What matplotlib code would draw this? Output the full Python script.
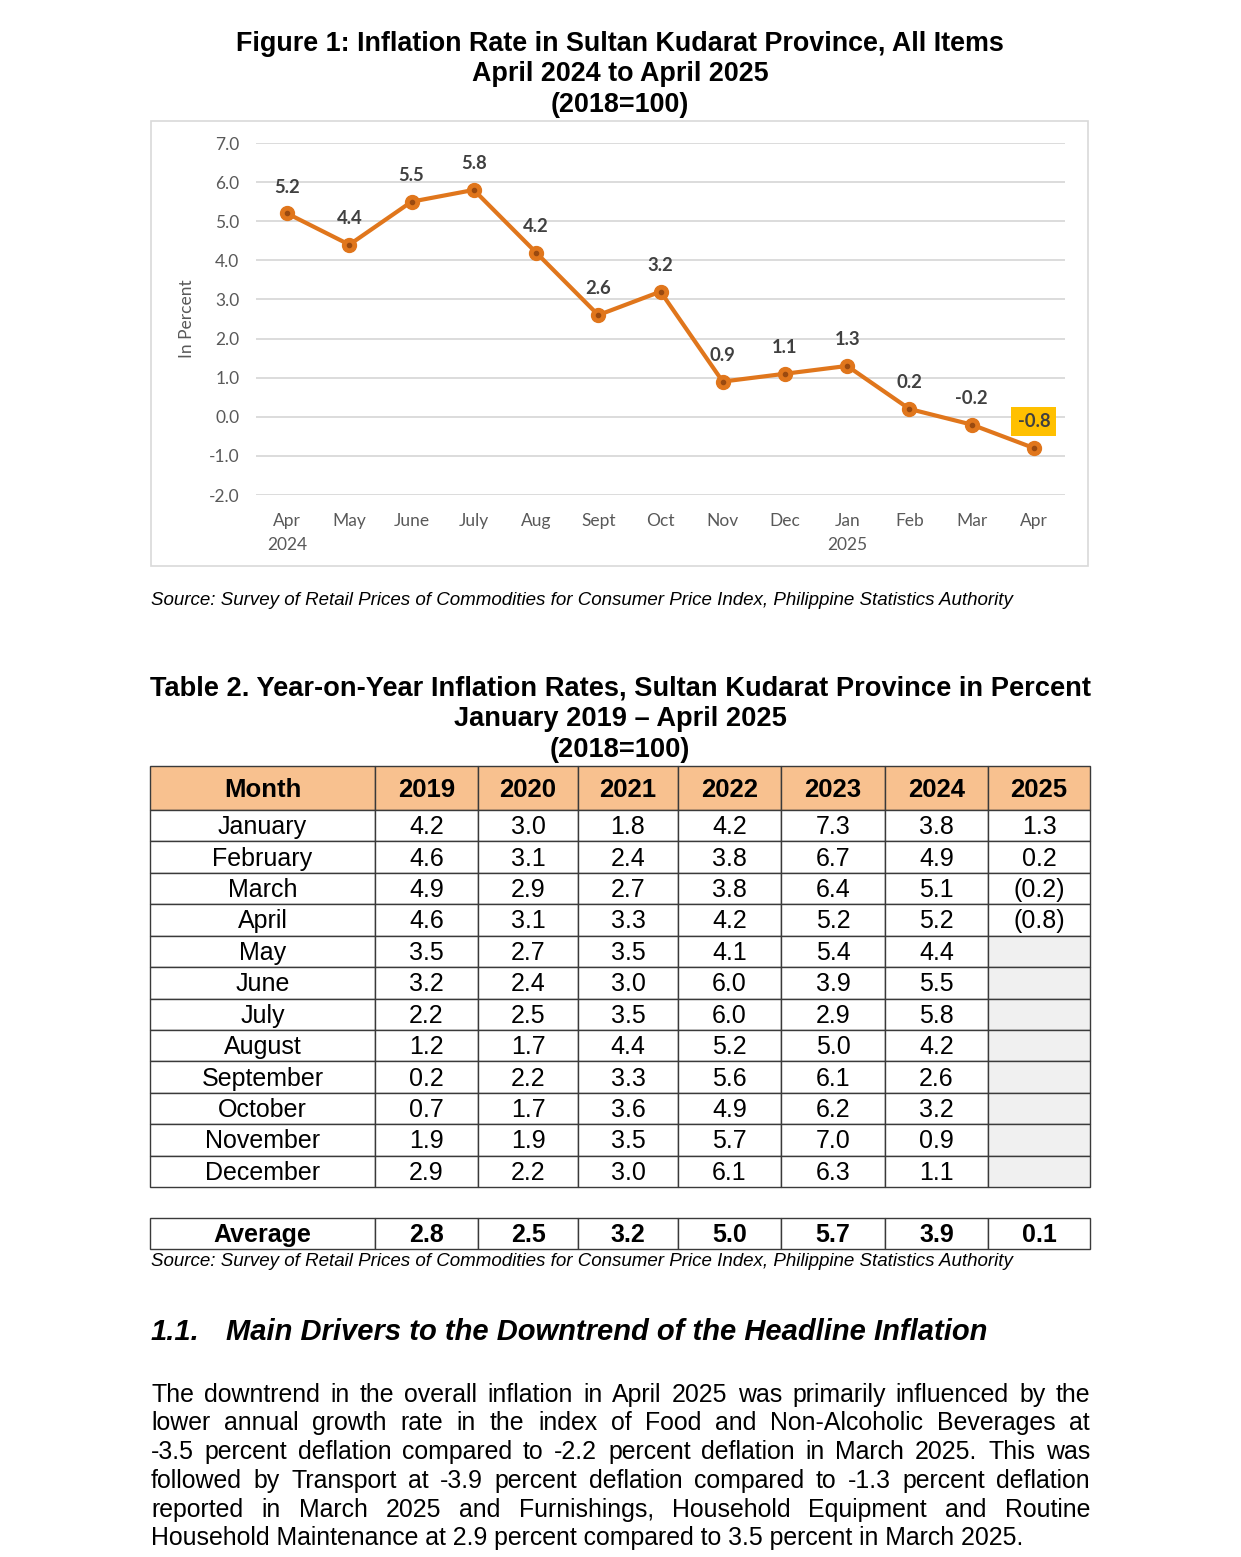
#=== BIBLIOTECAS ===
import numpy as np
import matplotlib
matplotlib.use("Agg")
import matplotlib.pyplot as plt
from matplotlib.patches import Rectangle
from matplotlib.font_manager import FontProperties

#=== Dados do gráfico (Figura 1) ===
meses = ["Apr\n2024", "May", "June", "July", "Aug", "Sept", "Oct", "Nov",
         "Dec", "Jan\n2025", "Feb", "Mar", "Apr"]
inflacao = [5.2, 4.4, 5.5, 5.8, 4.2, 2.6, 3.2, 0.9, 1.1, 1.3, 0.2, -0.2, -0.8]

#=== Dados da tabela (Tabela 2) ===
nomes_meses = ["January", "February", "March", "April", "May", "June", "July",
               "August", "September", "October", "November", "December"]
anos = ["2019", "2020", "2021", "2022", "2023", "2024", "2025"]
t2019 = [4.2, 4.6, 4.9, 4.6, 3.5, 3.2, 2.2, 1.2, 0.2, 0.7, 1.9, 2.9]
t2020 = [3.0, 3.1, 2.9, 3.1, 2.7, 2.4, 2.5, 1.7, 2.2, 1.7, 1.9, 2.2]
t2021 = [1.8, 2.4, 2.7, 3.3, 3.5, 3.0, 3.5, 4.4, 3.3, 3.6, 3.5, 3.0]
t2022 = [4.2, 3.8, 3.8, 4.2, 4.1, 6.0, 6.0, 5.2, 5.6, 4.9, 5.7, 6.1]
t2023 = [7.3, 6.7, 6.4, 5.2, 5.4, 3.9, 2.9, 5.0, 6.1, 6.2, 7.0, 6.3]
t2024 = [3.8, 4.9, 5.1, 5.2, 4.4, 5.5, 5.8, 4.2, 2.6, 3.2, 0.9, 1.1]
t2025 = [1.3, 0.2, -0.2, -0.8]
medias = [2.8, 2.5, 3.2, 5.0, 5.7, 3.9, 0.1]

#=== Textos ===
titulo_fig = ["Figure 1: Inflation Rate in Sultan Kudarat Province, All Items",
              "April 2024 to April 2025", "(2018=100)"]
titulo_tab = ["Table 2. Year-on-Year Inflation Rates, Sultan Kudarat Province in Percent",
              "January 2019 \u2013 April 2025", "(2018=100)"]
fonte = "Source: Survey of Retail Prices of Commodities for Consumer Price Index, Philippine Statistics Authority"
paragrafo = [
    "The downtrend in the overall inflation in April 2025 was primarily influenced by the",
    "lower annual growth rate in the index of Food and Non-Alcoholic Beverages at",
    "-3.5 percent deflation compared to -2.2 percent deflation in March 2025. This was",
    "followed by Transport at -3.9 percent deflation compared to -1.3 percent deflation",
    "reported in March 2025 and Furnishings, Household Equipment and Routine",
    "Household Maintenance at 2.9 percent compared to 3.5 percent in March 2025.",
]

#=== Configuração da página ===
W, H = 1241, 1557
ARIAL = "Liberation Sans"
CALIBRI = "Lato"
laranja = "#E0761C"

fig = plt.figure(figsize=(W / 100, H / 100), dpi=100)
pg = fig.add_axes([0, 0, 1, 1])
pg.set_xlim(0, W)
pg.set_ylim(H, 0)
pg.axis("off")

def caixa(x0, y0, x1, y1):
    return [x0 / W, 1 - y1 / H, (x1 - x0) / W, (y1 - y0) / H]

#=== Título da figura ===
for txt, y in zip(titulo_fig, [44, 74, 105]):
    pg.text(620, y, txt, ha="center", va="center", family=ARIAL,
            fontweight="bold", fontsize=19.4)

# moldura do gráfico
pg.add_patch(Rectangle((151, 121), 937, 445, fill=False, ec="#D9D9D9", lw=1.2))

#=== Gráfico de linha ===
ax = fig.add_axes(caixa(256, 143, 1065, 495))
ax.set_zorder(2)
ax.patch.set_alpha(0)
x = np.arange(len(inflacao))
ax.plot(x, inflacao, color=laranja, lw=3, marker="o", ms=10,
        mfc=laranja, mec=laranja, zorder=3)
ax.plot(x, inflacao, ls="none", marker="o", ms=3, color="#9A4A10", zorder=4)

for i, v in enumerate(inflacao):
    extra = {}
    if i == len(inflacao) - 1:
        extra["bbox"] = dict(boxstyle="square,pad=0.33", fc="#FFC000", ec="none")
    ax.annotate(f"{v:.1f}", (i, v), xytext=(0, 19), textcoords="offset points",
                ha="center", va="center", fontsize=13.3, fontweight="bold",
                color="#404040", family=CALIBRI, **extra)

ax.set_xlim(-0.5, len(inflacao) - 0.5)
ax.set_ylim(-2, 7)
ax.set_yticks(np.arange(-2, 7.1, 1))
ax.set_yticklabels([f"{v:.1f}" for v in np.arange(-2, 7.1, 1)])
ax.set_xticks(x)
ax.set_xticklabels(meses, linespacing=1.6)
ax.tick_params(length=0, labelsize=12.5, labelcolor="#595959")
ax.tick_params(axis="y", pad=12)
ax.tick_params(axis="x", pad=13)
for lbl in ax.get_xticklabels() + ax.get_yticklabels():
    lbl.set_family(CALIBRI)
ax.grid(axis="y", color="#D9D9D9", lw=1.3)
ax.set_axisbelow(True)
for s in ax.spines.values():
    s.set_visible(False)
ax.set_ylabel("In Percent", fontsize=12.5, color="#595959", family=CALIBRI, labelpad=10)

pg.text(151, 600, fonte, ha="left", va="center", family=ARIAL, style="italic", fontsize=13.5)

#=== Título da tabela ===
for txt, y in zip(titulo_tab, [688, 719, 750]):
    pg.text(620, y, txt, ha="center", va="center", family=ARIAL,
            fontweight="bold", fontsize=19.6)

#=== Tabela ===
col_x = [150, 375, 478, 578, 678, 781, 885, 988, 1090]
topo_cab, base_cab = 766, 810
alt_linha = (1187 - 810) / 12
colunas = [t2019, t2020, t2021, t2022, t2023, t2024, t2025]

def fmt(v):
    return f"({abs(v):.1f})" if v < 0 else f"{v:.1f}"

def celula(x0, x1, y0, y1, txt, cor="white", negrito=False, tam=18):
    pg.add_patch(Rectangle((x0, y0), x1 - x0, y1 - y0, fc=cor, ec="#3A3A3A", lw=1))
    if txt:
        pg.text((x0 + x1) / 2, (y0 + y1) / 2 + 1.5, txt, ha="center", va="center",
                family=ARIAL, fontsize=tam, fontweight="bold" if negrito else "normal")

cab = ["Month"] + anos
for j, txt in enumerate(cab):
    celula(col_x[j], col_x[j + 1], topo_cab, base_cab, txt, cor="#F8C18F", negrito=True, tam=18.5)

for i, mes in enumerate(nomes_meses):
    y0 = base_cab + i * alt_linha
    y1 = y0 + alt_linha
    celula(col_x[0], col_x[1], y0, y1, mes)
    for j, col in enumerate(colunas):
        if i < len(col):
            celula(col_x[j + 1], col_x[j + 2], y0, y1, fmt(col[i]))
        else:
            celula(col_x[j + 1], col_x[j + 2], y0, y1, "", cor="#F0F0F0")

celula(col_x[0], col_x[1], 1218, 1249, "Average", negrito=True)
for j, v in enumerate(medias):
    celula(col_x[j + 1], col_x[j + 2], 1218, 1249, fmt(v), negrito=True)

pg.text(151, 1261, fonte, ha="left", va="center", family=ARIAL, style="italic", fontsize=13.5)

#=== Seção 1.1 ===
pg.text(151, 1332, "1.1.", ha="left", va="center", family=ARIAL,
        fontweight="bold", style="italic", fontsize=21)
pg.text(226, 1332, "Main Drivers to the Downtrend of the Headline Inflation", ha="left",
        va="center", family=ARIAL, fontweight="bold", style="italic", fontsize=21)

#=== Parágrafo justificado ===
props = FontProperties(family=ARIAL, size=17.9)
rend = fig.canvas.get_renderer()
ys = [1395, 1423, 1452, 1481, 1510, 1538]
x_ini, x_fim = 151, 1090
for k, (linha, y) in enumerate(zip(paragrafo, ys)):
    if k == len(paragrafo) - 1:
        pg.text(x_ini, y, linha, ha="left", va="center", fontproperties=props)
        continue
    palavras = linha.split()
    larg = [rend.get_text_width_height_descent(p, props, ismath=False)[0] for p in palavras]
    esp = (x_fim - x_ini - sum(larg)) / (len(palavras) - 1)
    xp = x_ini
    for p, w in zip(palavras, larg):
        pg.text(xp, y, p, ha="left", va="center", fontproperties=props)
        xp += w + esp

fig.savefig("out.png", dpi=100, facecolor="white")
